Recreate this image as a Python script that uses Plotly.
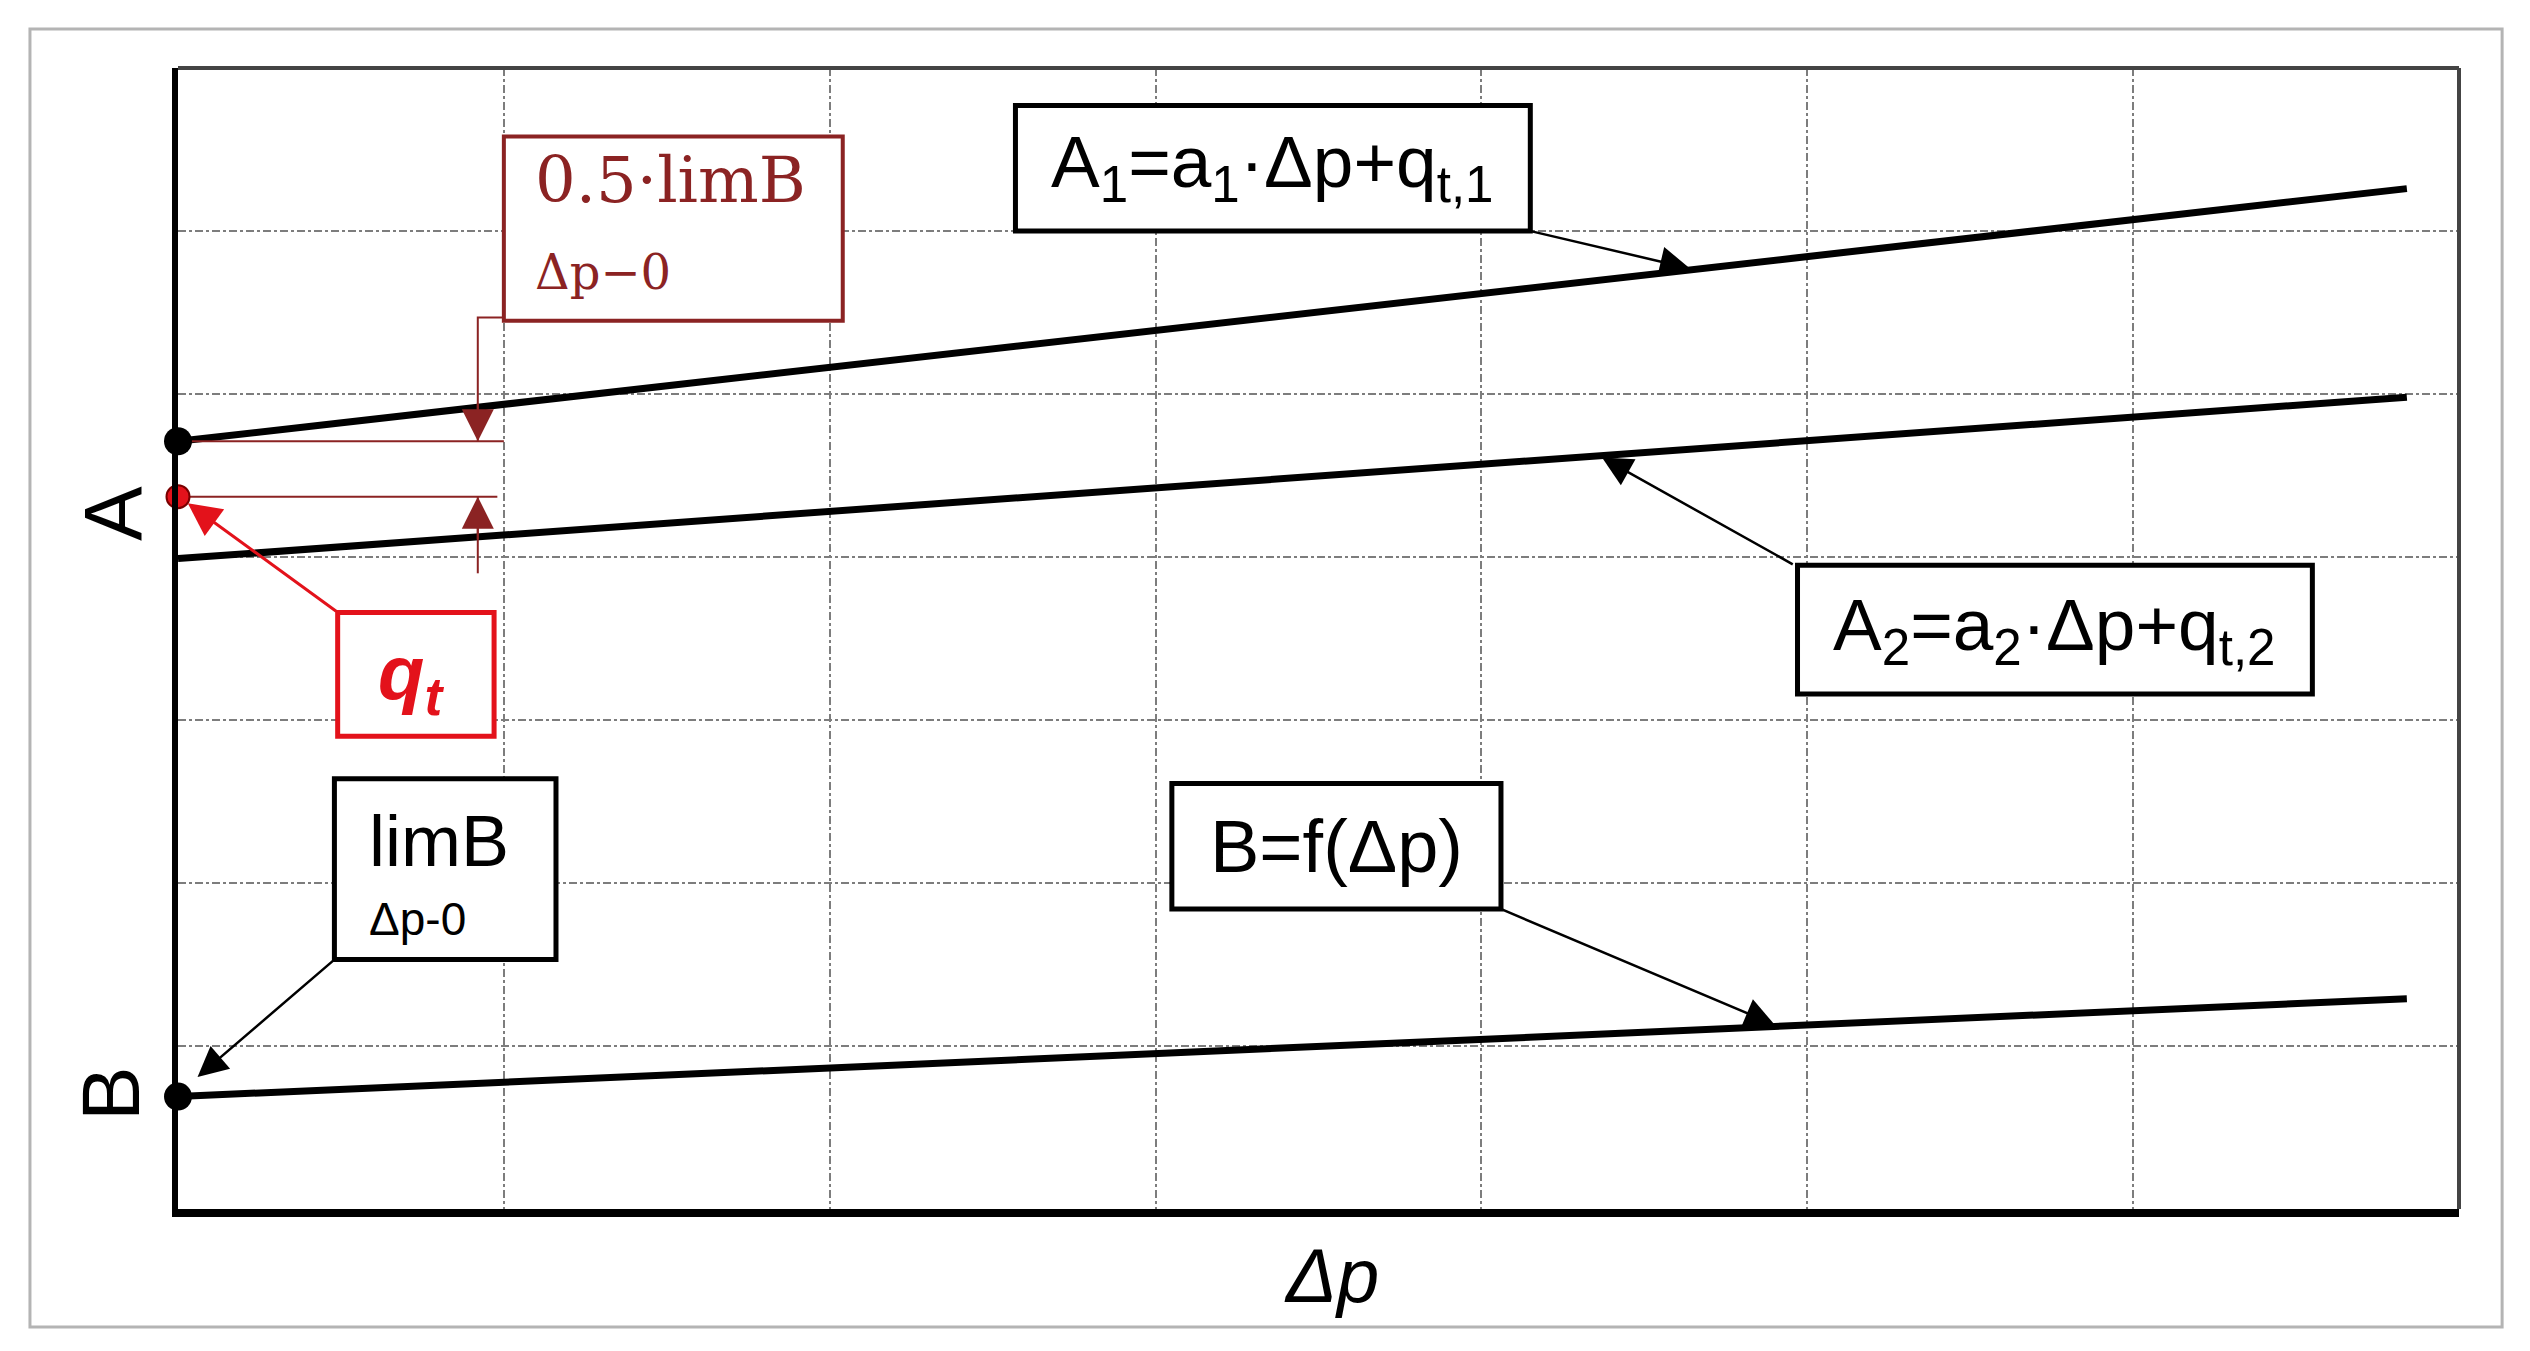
import plotly.graph_objects as go

# Line endpoints (x = Δp, y = value on a 0..7 grid)
dp = [0, 6.84]
a1_vals = [4.71, 6.26]
a2_vals = [3.99, 4.98]
b_vals = [0.69, 1.29]
qt_val = 4.37
grid_ticks = [0, 1, 2, 3, 4, 5, 6, 7]

DARK_RED = "#8b2323"
RED = "#e3121b"
TXT = "Liberation Sans, Arial, sans-serif"

fig = go.Figure()

# main lines
for yv in (a1_vals, a2_vals, b_vals):
    fig.add_trace(go.Scatter(x=dp, y=yv, mode="lines",
                             line=dict(color="black", width=7),
                             hoverinfo="skip", showlegend=False))

# dimension lines for 0.5*limB
fig.add_trace(go.Scatter(x=[0, 1.0], y=[a1_vals[0], a1_vals[0]], mode="lines",
                         line=dict(color=DARK_RED, width=2), showlegend=False))
fig.add_trace(go.Scatter(x=[0, 0.98], y=[qt_val, qt_val], mode="lines",
                         line=dict(color=DARK_RED, width=2), showlegend=False))
fig.add_trace(go.Scatter(x=[1.0, 0.92, 0.92], y=[5.47, 5.47, a1_vals[0]], mode="lines",
                         line=dict(color=DARK_RED, width=2), showlegend=False))
fig.add_trace(go.Scatter(x=[0.92, 0.92], y=[3.90, qt_val], mode="lines",
                         line=dict(color=DARK_RED, width=2), showlegend=False))

# points at Δp = 0
fig.add_trace(go.Scatter(x=[0, 0], y=[a1_vals[0], b_vals[0]], mode="markers",
                         marker=dict(color="black", size=28),
                         cliponaxis=False, showlegend=False))
fig.add_trace(go.Scatter(x=[0], y=[qt_val], mode="markers",
                         marker=dict(color=RED, size=23, line=dict(color="#7a0000", width=2)),
                         cliponaxis=False, showlegend=False))

# label boxes
boxes = [
    dict(x0=2.57, x1=4.15, y0=6.0, y1=6.77, color="black", w=5),
    dict(x0=4.97, x1=6.55, y0=3.16, y1=3.95, color="black", w=5),
    dict(x0=3.05, x1=4.06, y0=1.84, y1=2.61, color="black", w=5),
    dict(x0=0.48, x1=1.16, y0=1.53, y1=2.64, color="black", w=5),
    dict(x0=1.0, x1=2.04, y0=5.45, y1=6.58, color=DARK_RED, w=4),
    dict(x0=0.49, x1=0.97, y0=2.90, y1=3.66, color=RED, w=5),
]
shapes = []
for b in boxes:
    shapes.append(dict(type="rect", xref="x", yref="y", x0=b["x0"], x1=b["x1"],
                       y0=b["y0"], y1=b["y1"], fillcolor="white",
                       line=dict(color=b["color"], width=b["w"])))

# top and right border of the plot, outer frame
shapes.append(dict(type="line", xref="x domain", yref="y domain", x0=0, x1=1, y0=1, y1=1,
                   line=dict(color="#444", width=4)))
shapes.append(dict(type="line", xref="x domain", yref="y domain", x0=1, x1=1, y0=0, y1=1,
                   line=dict(color="#444", width=4)))
shapes.append(dict(type="rect", xref="paper", yref="paper", x0=-0.0649, x1=1.0189,
                   y0=-0.1034, y1=1.0342, line=dict(color="#b4b4b4", width=3), layer="below"))

annotations = [
    dict(x=3.36, y=6.39, text="A<sub>1</sub>=a<sub>1</sub>·Δp+q<sub>t,1</sub>",
         font=dict(family=TXT, size=73, color="black")),
    dict(x=5.76, y=3.555, text="A<sub>2</sub>=a<sub>2</sub>·Δp+q<sub>t,2</sub>",
         font=dict(family=TXT, size=73, color="black")),
    dict(x=3.555, y=2.225, text="B=f(Δp)", font=dict(family=TXT, size=74, color="black")),
    dict(x=0.58, y=2.26, text="limB", xanchor="left", font=dict(family=TXT, size=72, color="black")),
    dict(x=0.58, y=1.78, text="Δp-0", xanchor="left", font=dict(family=TXT, size=46, color="black")),
    dict(x=1.09, y=6.31, text="0.5·limB", xanchor="left",
         font=dict(family="DejaVu Serif, serif", size=64, color=DARK_RED)),
    dict(x=1.09, y=5.75, text="Δp−0", xanchor="left",
         font=dict(family="DejaVu Serif, serif", size=48, color=DARK_RED)),
    dict(x=0.716, y=3.26, text="<b><i>q<sub>t</sub></i></b>",
         font=dict(family=TXT, size=76, color=RED)),
    # axis labels
    dict(x=-0.0285, xref="paper", y=4.27, text="A", textangle=-90,
         font=dict(family=TXT, size=82, color="black")),
    dict(x=-0.0298, xref="paper", y=0.705, text="B", textangle=-90,
         font=dict(family=TXT, size=82, color="black")),
    dict(x=3.54, y=-0.058, yref="paper", text="<i>Δp</i>",
         font=dict(family=TXT, size=76, color="black")),
]
for a in annotations:
    a.update(showarrow=False)
    a.setdefault("xanchor", "center")
    a.setdefault("yanchor", "middle")
    a.setdefault("xref", "x")
    a.setdefault("yref", "y")

# arrows: (head x, head y, tail x, tail y, colour, width, size)
arrows = [
    (4.64, 5.77, 4.15, 6.0, "black", 2.5, 2.4),
    (4.37, 4.61, 4.96, 3.95, "black", 2.5, 2.4),
    (4.90, 1.13, 4.06, 1.84, "black", 2.5, 2.4),
    (0.06, 0.81, 0.48, 1.53, "black", 2.5, 2.4),
    (0.03, 4.33, 0.49, 3.66, RED, 3, 2.2),
    (0.92, a1_vals[0], 0.92, 4.95, DARK_RED, 2, 3.2),
    (0.92, qt_val, 0.92, 4.10, DARK_RED, 2, 3.2),
]
for hx, hy, tx, ty, col, w, sz in arrows:
    annotations.append(dict(x=hx, y=hy, ax=tx, ay=ty, xref="x", yref="y",
                            axref="x", ayref="y", text="", showarrow=True,
                            arrowhead=2, arrowsize=sz, arrowwidth=w,
                            arrowcolor=col, standoff=0))

# the page body has an 8px margin, so the figure is 8px smaller and margins shifted
fig.update_layout(
    width=2522, height=1343,
    margin=dict(l=170, r=71, t=60, b=142),
    paper_bgcolor="white", plot_bgcolor="white",
    shapes=shapes, annotations=annotations,
    xaxis=dict(range=[0, 7], tickvals=grid_ticks, showticklabels=False, ticks="",
               showgrid=True, gridcolor="#7d7d7d", gridwidth=2, griddash="8px,3px,3px,3px",
               showline=True, linecolor="black", linewidth=8, zeroline=False, fixedrange=True),
    yaxis=dict(range=[0, 7], tickvals=grid_ticks, showticklabels=False, ticks="",
               showgrid=True, gridcolor="#7d7d7d", gridwidth=2, griddash="8px,3px,3px,3px",
               showline=True, linecolor="black", linewidth=6, zeroline=False, fixedrange=True),
)

fig.write_html("out.html")
